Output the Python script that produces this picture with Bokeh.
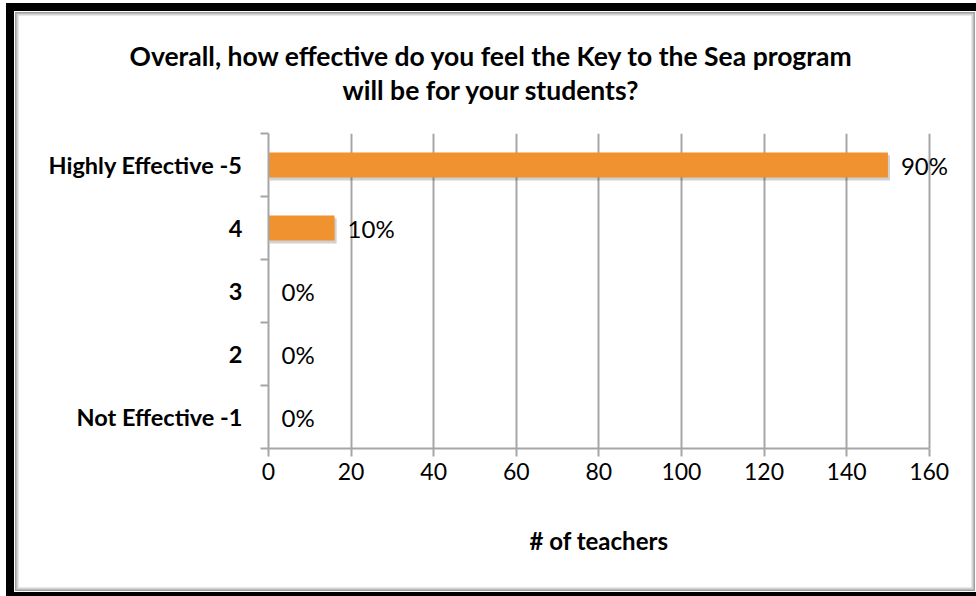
from bokeh.plotting import figure
from bokeh.models import Range1d, FixedTicker, LabelSet, ColumnDataSource, Title
from bokeh.core.properties import value
from bokeh.embed import file_html
from bokeh.resources import INLINE

categories = ["Highly Effective -5", "4", "3", "2", "Not Effective -1"]
teachers = [150, 16, 0, 0, 0]
percent_labels = ["90%", "10%", "0%", "0%", "0%"]
x_ticks = [0, 20, 40, 60, 80, 100, 120, 140, 160]
title_lines = ["Overall, how effective do you feel the Key to the Sea program",
               "will be for your students?"]
x_title = "# of teachers"

FONT = "Lato"
GRID = "#a6a6a6"
BAR = "#f0922f"

n = len(categories)
ypos = [n - i - 0.5 for i in range(n)]
src = ColumnDataSource(dict(y=ypos, teachers=teachers, pct=percent_labels))
shadow = ColumnDataSource(dict(y=[y - 0.045 for y, t in zip(ypos, teachers) if t > 0],
                               right=[t + 0.5 for t in teachers if t > 0]))

# extra room on the right so the outside-end label of the longest bar is not clipped
p = figure(width=970, height=593, x_range=Range1d(x_ticks[0], 170), y_range=Range1d(0, n),
           output_backend="svg", toolbar_location=None,
           min_border_left=254, min_border_right=14, min_border_top=122, min_border_bottom=156)
p.styles = {
    "margin-left": "6px", "margin-top": "3px",
    "border-style": "solid", "border-color": "black",
    "border-width": "8px 0px 4px 8px",
    "background-color": "white",
    "box-shadow": "inset 0 0 0 1px #ffffff, inset 0 0 0 2.5px #a0a0a0, inset 0 0 0 4.5px #d4d4d4",
}
p.outline_line_color = None
p.background_fill_color = "white"
p.border_fill_color = None
p.title.visible = False

p.xgrid.grid_line_color = GRID
p.xgrid.grid_line_width = 2
p.ygrid.grid_line_color = None

xa = p.xaxis[0]
xa.ticker = FixedTicker(ticks=x_ticks)
xa.bounds = (x_ticks[0], x_ticks[-1])
xa.axis_line_color = GRID
xa.axis_line_width = 2
xa.major_tick_line_color = GRID
xa.major_tick_line_width = 2
xa.major_tick_out = 8
xa.major_tick_in = 0
xa.minor_tick_line_color = None
xa.major_label_text_font = FONT
xa.major_label_text_font_size = "23px"
xa.major_label_text_color = "black"
xa.major_label_standoff = 6

ya = p.yaxis[0]
ya.ticker = FixedTicker(ticks=ypos, minor_ticks=list(range(n + 1)))
ya.major_label_overrides = {y: c for y, c in zip(ypos, categories)}
ya.axis_line_color = GRID
ya.axis_line_width = 2
ya.major_tick_line_color = None
ya.major_tick_out = 0
ya.major_tick_in = 0
ya.minor_tick_line_color = GRID
ya.minor_tick_line_width = 2
ya.minor_tick_out = 8
ya.minor_tick_in = 0
ya.major_label_text_font = FONT
ya.major_label_text_font_style = "bold"
ya.major_label_text_font_size = "23.5px"
ya.major_label_text_color = "black"
ya.major_label_standoff = 18

p.hbar(y="y", left=0.3, right="right", height=0.4, source=shadow,
       fill_color="black", fill_alpha=0.18, line_color=None)
p.hbar(y="y", left=0, right="teachers", height=0.4, source=src,
       fill_color=BAR, line_color=None)

labels = LabelSet(x="teachers", y="y", text="pct", source=src, x_offset=13,
                  text_baseline="middle", text_align="left",
                  text_font=value(FONT), text_font_size="24px", text_color="black")
p.add_layout(labels)

# title: spacer next to the plot area, then line 2, then line 1
p.add_layout(Title(text=" ", text_font_size="1px", standoff=25), "above")
p.add_layout(Title(text=title_lines[1], align="left", offset=74,
                   text_font=FONT, text_font_style="bold", text_font_size="26.5px",
                   text_color="black", standoff=0), "above")
p.add_layout(Title(text=title_lines[0], align="left", offset=-139,
                   text_font=FONT, text_font_style="bold", text_font_size="26.5px",
                   text_color="black", standoff=0), "above")

# x axis title
p.add_layout(Title(text=x_title, align="left", offset=261, vertical_align="middle",
                   text_font=FONT, text_font_style="bold", text_font_size="24px",
                   text_color="black", standoff=84), "below")

open("out.html", "w").write(file_html(p, INLINE))
